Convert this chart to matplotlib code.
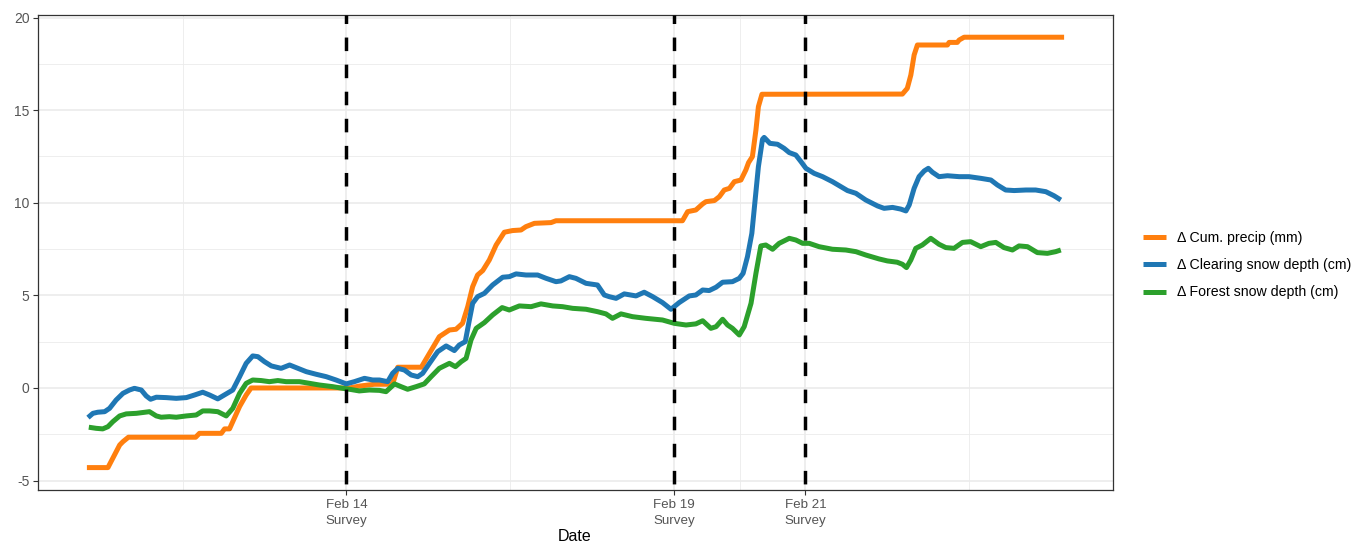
import matplotlib
matplotlib.use("Agg")
import matplotlib.pyplot as plt
import pandas as pd
from matplotlib.lines import Line2D

plt.rcParams['font.family'] = ['Liberation Sans', 'DejaVu Sans']
plt.rcParams['axes.unicode_minus'] = False

# ---------------- data (hours since Feb 10 00:00) ----------------
precip_h = [1, 8.7, 13.0, 14.2, 16.2, 40.8, 42.2, 50.2, 51.4, 53.2, 56.9, 59.3, 61.1,
            97.1, 100.7, 106.2, 112.9, 114.8, 123.4, 126.4, 130.0, 133.7, 136.1, 138.5,
            140.4, 142.2, 144.0, 145.9, 148.3, 150.8, 153.8, 156.8, 159.9, 161.7, 164.8,
            170.9, 172.7, 219.0, 220.9, 223.9, 226.4, 227.6, 230.7, 232.5, 234.3, 236.2,
            238.0, 240.4, 242.2, 243.2, 244.6, 245.9, 246.8, 248.1, 299.5, 301.3, 302.6,
            303.8, 305.0, 316.0, 316.6, 319.6, 320.3, 322.1, 358.7]
precip_v = [-4.30, -4.30, -3.08, -2.90, -2.66, -2.66, -2.45, -2.45, -2.21, -2.21, -1.00, -0.38, 0.0,
            0.0, 0.10, 0.20, 0.20, 1.12, 1.12, 1.87, 2.77, 3.13, 3.17, 3.49,
            4.39, 5.47, 6.10, 6.34, 6.91, 7.72, 8.41, 8.50, 8.53, 8.71, 8.89,
            8.93, 9.03, 9.03, 9.52, 9.61, 9.94, 10.06, 10.12, 10.33, 10.69, 10.78,
            11.14, 11.23, 11.77, 12.17, 12.49, 13.93, 15.19, 15.86, 15.87, 16.18, 16.90,
            17.98, 18.52, 18.52, 18.66, 18.66, 18.79, 18.94, 18.94]

clear_h = [1.4, 3.2, 5.0, 7.5, 9.3, 11.7, 14.2, 16.6, 18.4, 20.9, 22.7, 24.3, 26.4, 30.0,
           33.7, 37.4, 40.4, 43.4, 45.9, 48.9, 52.0, 54.4, 56.9, 59.3, 61.7, 63.6, 66.0,
           68.5, 72.1, 75.2, 78.2, 81.3, 84.9, 88.6, 92.2, 95.9, 98.9, 102.6, 105.6, 108.1,
           111.1, 112.9, 114.8, 117.2, 119.7, 122.1, 123.9, 126.4, 129.4, 132.5, 135.5,
           137.3, 139.5, 141.0, 142.2, 144.0, 146.5, 149.5, 153.2, 155.6, 158.1, 161.7,
           166.0, 169.1, 172.7, 174.5, 177.6, 180.0, 183.7, 187.9, 190.4, 192.2, 194.7,
           197.7, 202.0, 205.0, 208.1, 211.7, 214.8, 217.8, 221.5, 223.9, 226.4, 228.8,
           231.3, 233.7, 237.3, 239.8, 241.2, 242.8, 244.4, 245.6, 246.8, 248.3, 248.9,
           251.0, 253.8, 256.2, 258.1, 260.5, 262.4, 264.2, 267.2, 270.3, 273.9, 277.0,
           279.4, 282.5, 286.1, 290.4, 292.8, 295.9, 298.9, 300.8, 302.0, 303.8, 305.6,
           307.5, 309.0, 310.5, 312.9, 316.0, 320.3, 323.9, 328.2, 331.9, 334.3, 337.3,
           340.4, 344.7, 348.3, 352.0, 355.0, 357.5]
clear_v = [-1.60, -1.37, -1.31, -1.28, -1.10, -0.65, -0.29, -0.11, -0.02, -0.11, -0.43, -0.61, -0.50, -0.52,
           -0.56, -0.52, -0.38, -0.23, -0.38, -0.59, -0.32, -0.11, 0.61, 1.33, 1.73, 1.69, 1.42,
           1.19, 1.06, 1.24, 1.06, 0.88, 0.74, 0.61, 0.43, 0.22, 0.34, 0.52, 0.43, 0.43,
           0.34, 0.79, 1.06, 0.97, 0.70, 0.61, 0.79, 1.33, 1.96, 2.27, 2.02,
           2.32, 2.50, 3.67, 4.57, 4.93, 5.11, 5.56, 5.98, 6.01, 6.16, 6.10,
           6.10, 5.92, 5.74, 5.78, 6.01, 5.92, 5.65, 5.56, 5.02, 4.93, 4.84,
           5.08, 4.97, 5.17, 4.93, 4.61, 4.25, 4.61, 4.97, 5.02, 5.29, 5.26,
           5.44, 5.71, 5.74, 5.92, 6.19, 7.09, 8.35, 10.15, 11.95, 13.43, 13.53,
           13.21, 13.16, 12.94, 12.71, 12.58, 12.22, 11.86, 11.59, 11.41, 11.14, 10.87,
           10.66, 10.51, 10.15, 9.83, 9.70, 9.75, 9.66, 9.56, 9.88, 10.78, 11.41,
           11.72, 11.86, 11.65, 11.41, 11.46, 11.41, 11.41, 11.32, 11.23, 10.96, 10.69,
           10.66, 10.69, 10.69, 10.60, 10.38, 10.15]

forest_h = [1.7, 4.4, 6.8, 8.7, 10.5, 13.0, 15.4, 19.1, 23.9, 26.4, 28.2, 31.2, 33.7, 37.4,
            41.0, 43.4, 45.9, 48.9, 52.0, 54.4, 56.9, 59.3, 61.7, 64.8, 67.8, 70.9, 73.9,
            78.8, 82.5, 86.1, 91.0, 94.7, 97.1, 100.7, 104.4, 108.1, 110.5, 113.6, 116.0,
            118.4, 121.5, 124.5, 127.0, 130.0, 133.7, 135.9, 138.0, 139.8, 141.6, 143.5,
            146.5, 149.5, 153.0, 155.6, 159.3, 163.6, 167.2, 171.5, 175.1, 178.8, 183.7,
            187.9, 191.0, 193.4, 196.5, 200.7, 205.6, 211.7, 216.0, 220.3, 223.9, 226.4,
            229.4, 231.3, 233.7, 235.5, 237.3, 239.8, 241.6, 244.1, 245.9, 247.7, 249.5,
            252.0, 254.4, 258.1, 260.5, 263.0, 265.4, 269.0, 273.9, 278.8, 282.5, 286.1,
            290.9, 294.0, 297.6, 299.5, 301.0, 302.6, 304.4, 306.8, 309.9, 312.9, 315.4,
            318.4, 321.5, 324.5, 328.2, 331.2, 333.7, 336.7, 339.8, 342.2, 345.3, 348.9,
            352.6, 355.6, 357.5]
forest_v = [-2.12, -2.18, -2.21, -2.09, -1.82, -1.51, -1.40, -1.37, -1.28, -1.51, -1.58, -1.55, -1.58, -1.51,
            -1.46, -1.24, -1.24, -1.28, -1.51, -1.10, -0.29, 0.25, 0.43, 0.40, 0.34, 0.40, 0.34,
            0.34, 0.25, 0.16, 0.07, -0.02, -0.07, -0.16, -0.11, -0.13, -0.20, 0.22, 0.07,
            -0.07, 0.07, 0.22, 0.61, 1.06, 1.33, 1.15, 1.42, 1.60, 2.59, 3.22,
            3.53, 3.94, 4.34, 4.21, 4.43, 4.39, 4.54, 4.43, 4.39, 4.30, 4.25,
            4.12, 4.00, 3.76, 4.00, 3.85, 3.76, 3.67, 3.49, 3.40, 3.46, 3.63,
            3.22, 3.31, 3.71, 3.40, 3.22, 2.86, 3.31, 4.57, 6.19, 7.67, 7.72,
            7.49, 7.81, 8.08, 7.99, 7.81, 7.81, 7.63, 7.49, 7.45, 7.36, 7.18,
            6.97, 6.86, 6.79, 6.68, 6.50, 6.91, 7.54, 7.72, 8.08, 7.76, 7.58,
            7.54, 7.86, 7.90, 7.63, 7.81, 7.86, 7.58, 7.45, 7.67, 7.63, 7.31,
            7.27, 7.36, 7.45]

survey_dates = ['2019-02-14', '2019-02-19', '2019-02-21']
survey_labels = ['Feb 14\nSurvey', 'Feb 19\nSurvey', 'Feb 21\nSurvey']
series_labels = ['Δ Cum. precip (mm)', 'Δ Clearing snow depth (cm)', 'Δ Forest snow depth (cm)']
colors = ['#FF7F0E', '#1F77B4', '#2CA02C']

base = pd.Timestamp('2019-02-10')
def to_t(hours):
    return base + pd.to_timedelta(hours, unit='h')

fig = plt.figure(figsize=(13.54, 5.43), dpi=100)
ax = fig.add_axes([38/1354, 1-490/543, (1113-38)/1354, (490-15)/543])

grid_c = '#EBEBEB'
# minor grid
for mh in [36, 156, 240, 324]:
    ax.axvline(to_t(mh), color=grid_c, lw=0.6, zorder=0)
for my in [-2.5, 2.5, 7.5, 12.5, 17.5]:
    ax.axhline(my, color=grid_c, lw=0.6, zorder=0)
# major grid
for d in survey_dates:
    ax.axvline(pd.Timestamp(d), color=grid_c, lw=1.2, zorder=0)
for yv in [-5, 0, 5, 10, 15, 20]:
    ax.axhline(yv, color=grid_c, lw=1.2, zorder=0)

lw = 3.6
ax.plot(to_t(precip_h), precip_v, color=colors[0], lw=lw, solid_capstyle='butt', zorder=3)
ax.plot(to_t(clear_h), clear_v, color=colors[1], lw=lw, solid_capstyle='butt', zorder=3)
ax.plot(to_t(forest_h), forest_v, color=colors[2], lw=lw, solid_capstyle='butt', zorder=3)

for d in survey_dates:
    ax.axvline(pd.Timestamp(d), color='black', lw=2.5, linestyle=(6.05, (3.9, 3.9)), zorder=4)

ax.set_xlim(to_t(-16.9), to_t(376.6))
ax.set_ylim(-5.51, 20.14)
ax.set_xticks([pd.Timestamp(d) for d in survey_dates])
ax.set_xticklabels(survey_labels, fontsize=9.6, color='#555555', linespacing=1.45)
ax.set_yticks([-5, 0, 5, 10, 15, 20])
ax.set_yticklabels(['-5', '0', '5', '10', '15', '20'], fontsize=10, color='#555555')
ax.tick_params(axis='both', length=3.5, width=0.8, color='#333333', pad=2.5)
ax.tick_params(axis='x', pad=3)
for s in ax.spines.values():
    s.set_color('#333333')
    s.set_linewidth(0.9)
fig.text(575/1354, 1-541/543, 'Date', fontsize=11.5, color='black', ha='center', va='baseline')

handles = [Line2D([0], [0], color=c, lw=lw, solid_capstyle='butt') for c in colors]
fig.legend(handles, series_labels, loc='center left', bbox_to_anchor=(1143/1354, 1-265/543),
           frameon=False, fontsize=10.2, handlelength=1.6, handletextpad=0.8,
           labelspacing=0.95, borderpad=0, borderaxespad=0)

fig.savefig('out.png', dpi=100, facecolor='white')
